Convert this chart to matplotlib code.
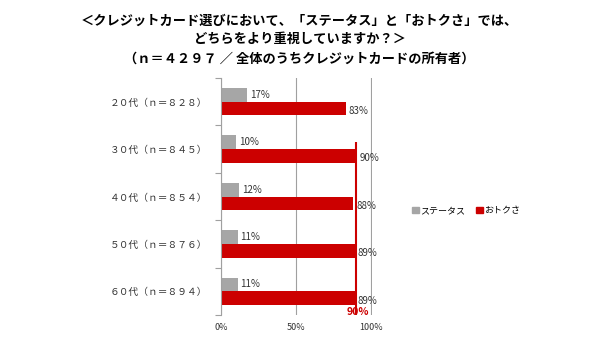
import matplotlib
matplotlib.use("Agg")
import matplotlib.pyplot as plt
from matplotlib.patches import Patch

plt.rcParams['font.family'] = ['Noto Sans CJK JP', 'DejaVu Sans']

# データ
categories = ['２０代（ｎ＝８２８）', '３０代（ｎ＝８４５）', '４０代（ｎ＝８５４）',
              '５０代（ｎ＝８７６）', '６０代（ｎ＝８９４）']
status = [17, 10, 12, 11, 11]
otoku = [83, 90, 88, 89, 89]
series_names = ['ステータス', 'おトクさ']
ref_value = 90

title = ('＜クレジットカード選びにおいて、「ステータス」と「おトクさ」では、\n'
         'どちらをより重視していますか？＞\n'
         '（ｎ＝４２９７ ／ 全体のうちクレジットカードの所有者）')

gray = '#A6A6A6'
red = '#CC0000'

fig = plt.figure(figsize=(5.99, 3.51), dpi=100)
ax = fig.add_axes([0.369, 0.1026, 0.252, 0.675])

y = list(range(len(categories)))
h = 0.29
ax.barh([i - h / 2 for i in y], status, height=h, color=gray)
ax.barh([i + h / 2 for i in y], otoku, height=h, color=red)

for i in y:
    ax.text(status[i] + 2, i - h / 2, f'{status[i]}%', va='center', ha='left',
            fontsize=7, color='#333333')
    ax.text(otoku[i] + 2, i + h / 2 + 0.05, f'{otoku[i]}%', va='center', ha='left',
            fontsize=7, color='#333333')

# 90% ライン
ax.vlines(ref_value, 0.85, 4.5, color=red, linewidth=1.5, zorder=3)
ax.text(ref_value + 1, 4.43, f'{ref_value}%', color=red, fontsize=7.5,
        fontweight='bold', ha='center', va='center')

ax.set_xlim(0, 100.4)
ax.set_ylim(4.5, -0.5)
ax.set_xticks([0, 50, 100])
ax.set_xticklabels(['0%', '50%', '100%'], fontsize=6.5, color='#333333')
ax.tick_params(axis='x', length=0, pad=6)

ax.set_yticks(y)
ax.set_yticklabels(categories, fontsize=7, color='#333333')
ax.set_yticks([i - 0.5 for i in range(len(categories) + 1)], minor=True)
ax.tick_params(axis='y', which='major', length=0, pad=10)
ax.tick_params(axis='y', which='minor', length=4, color='#A0A0A0', width=0.8)

ax.xaxis.grid(True, color='#A0A0A0', linewidth=0.8)
ax.set_axisbelow(True)
for s in ['top', 'right', 'bottom']:
    ax.spines[s].set_visible(False)
ax.spines['left'].set_color('#A0A0A0')
ax.spines['left'].set_linewidth(0.8)

handles = [Patch(color=gray), Patch(color=red)]
fig.legend(handles, series_names, loc='center left', bbox_to_anchor=(0.675, 0.4),
           ncol=2, frameon=False, fontsize=6.5, handlelength=0.7, handleheight=0.7,
           handletextpad=0.2, columnspacing=1.2)

fig.text(0.5, 0.962, title, ha='center', va='top', fontsize=9.5, fontweight='bold',
         linespacing=1.45)

fig.savefig('out.png', dpi=100)
